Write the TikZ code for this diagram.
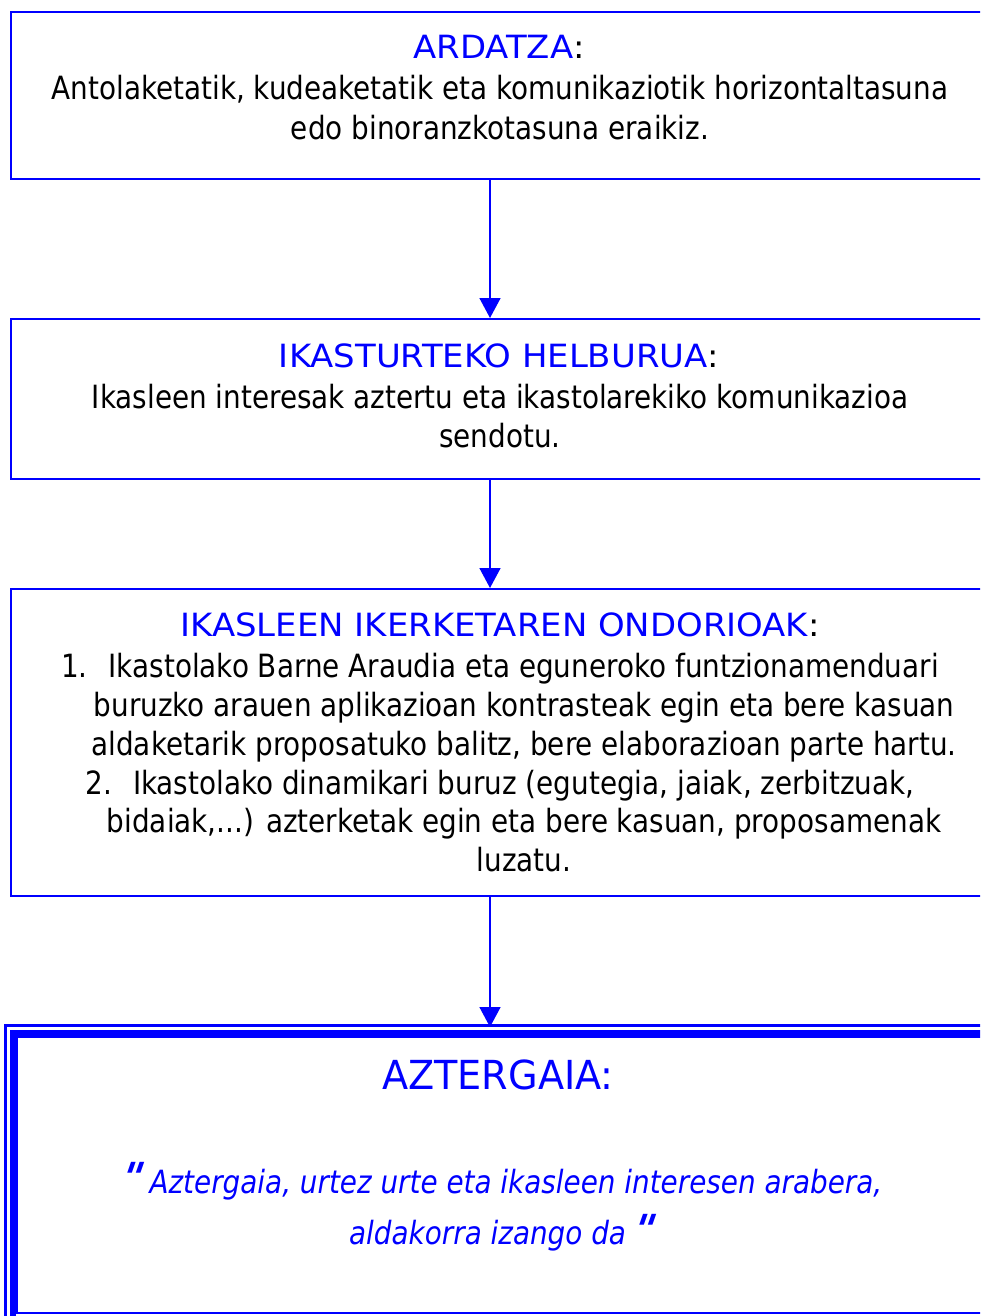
\documentclass[tikz,border=0pt]{standalone}
\usepackage{fontspec}
\setmainfont{DejaVu Sans}[FakeStretch=0.87]
\newfontfamily\titlefont{DejaVu Sans}[FakeStretch=1.06]
\newfontfamily\bigfont{DejaVu Sans}[FakeStretch=0.955]
\newfontfamily\qfont{DejaVu Sans}[FakeStretch=1.0, FakeSlant=0.35, Ligatures=TeXOff]
\usetikzlibrary{arrows.meta}
\definecolor{pblue}{RGB}{0,0,255}
\tikzset{
  box/.style={draw=pblue, line width=2pt, anchor=north west, inner sep=0pt, rectangle},
  arr/.style={draw=pblue, line width=1.6pt, -{Triangle[width=21pt,length=20pt]}},
  body/.style={anchor=base, inner sep=0pt, font=\fontsize{32}{39}\selectfont, text=black},
  ttl/.style={anchor=base, inner sep=0pt, font=\titlefont\fontsize{32}{39}\selectfont, text=black},
  big/.style={anchor=base, inner sep=0pt, font=\bigfont\fontsize{40}{48}\selectfont, text=pblue},
  quot/.style={anchor=base, inner sep=0pt, font=\fontsize{32}{39}\selectfont\itshape, text=pblue},
}
\newcommand{\qm}{{\qfont\fontsize{40}{44}\selectfont\bfseries\upshape "}}
\begin{document}
\begin{tikzpicture}[x=1pt,y=-1pt]
\useasboundingbox (0,0) rectangle (980,1316);
\clip (0,0) rectangle (980,1316);
\coordinate (ax) at (490,0);
% boxes
\node[box, minimum width=980pt, minimum height=167pt] (b1) at (10,11) {};
\node[box, minimum width=980pt, minimum height=160pt] (b2) at (10,318) {};
\node[box, minimum width=980pt, minimum height=307pt] (b3) at (10,588) {};
\node[box, line width=3pt, minimum width=993pt, minimum height=300pt] (b4o) at (3.5,1023.5) {};
\node[box, line width=6pt, minimum width=981pt, minimum height=287pt] (b4) at (9.5,1030) {};
\node[box, line width=2pt, minimum width=968pt, minimum height=275.5pt] (b4i) at (16,1036) {};
% arrows
\draw[arr] (ax |- b1.south) -- (ax |- b2.north);
\draw[arr] (ax |- b2.south) -- (ax |- b3.north);
\draw[arr, shorten >=3pt] (ax |- b3.south) -- (ax |- b4.north);
% box 1 text
\node[ttl] (t1) at (499,58.5) {\textcolor{pblue}{ARDATZA}:};
\node[body] (l11) at (500,99.5) {Antolaketatik, kudeaketatik eta komunikaziotik horizontaltasuna};
\node[body] (l12) at (500,139.5) {edo binoranzkotasuna eraikiz.};
% box 2 text
\node[ttl] (t2) at (499,367.5) {\textcolor{pblue}{IKASTURTEKO HELBURUA}:};
\node[body] (l21) at (500,408.5) {Ikasleen interesak aztertu eta ikastolarekiko komunikazioa};
\node[body] (l22) at (500,447.5) {sendotu.};
% box 3 text
\node[ttl] (t3) at (500,636.5) {\textcolor{pblue}{IKASLEEN IKERKETAREN ONDORIOAK}:};
\node[body] (l31) at (500,677.5) {1.\hspace{21pt}Ikastolako Barne Araudia eta eguneroko funtzionamenduari};
\node[body] (l32) at (524,716.5) {buruzko arauen aplikazioan kontrasteak egin eta bere kasuan};
\node[body] (l33) at (524,755.5) {aldaketarik proposatuko balitz, bere elaborazioan parte hartu.};
\node[body] (l34) at (500,794.5) {2.\hspace{21pt}Ikastolako dinamikari buruz (egutegia, jaiak, zerbitzuak,};
\node[body] (l35) at (524,832.5) {bidaiak,...) azterketak egin eta bere kasuan, proposamenak};
\node[body] (l36) at (524,871.5) {luzatu.};
% box 4 text
\node[big] (t4) at (498,1089) {AZTERGAIA:};
\node[quot] (q1) at (500,1193) {\raisebox{2pt}{\qm}\hspace{11pt}Aztergaia, urtez urte eta ikasleen interesen arabera,};
\node[quot] (q2) at (500,1244) {aldakorra izango da\hspace{4pt}\raisebox{1pt}{\qm}};
\end{tikzpicture}
\end{document}
